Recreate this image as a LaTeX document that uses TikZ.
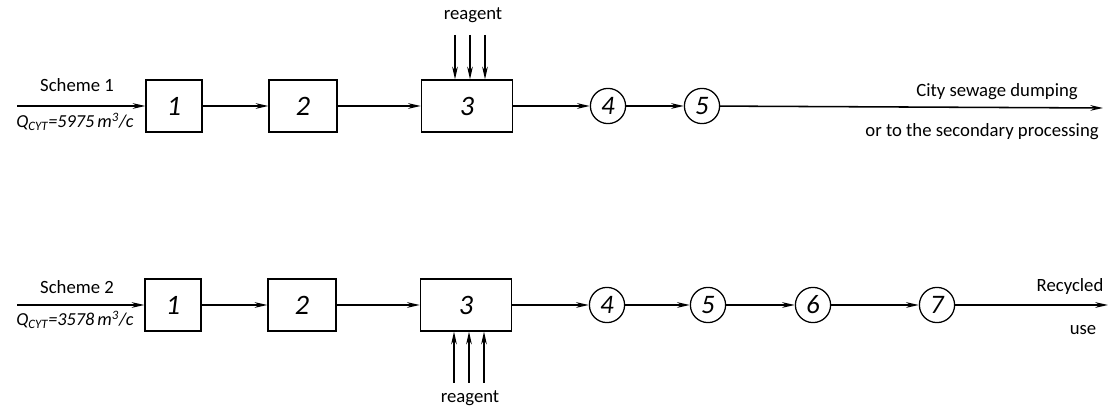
\documentclass[tikz,border=0pt]{standalone}
\usepackage{fontspec}
\setmainfont{Carlito}
\usetikzlibrary{arrows.meta}

\begin{document}
\begin{tikzpicture}[x=0.025cm, y=-0.025cm, font=\fontsize{13.3}{15}\selectfont,
    >={Stealth[length=9pt, width=4pt]},
    unit/.style={rectangle, draw, line width=0.9pt, minimum height=1.3cm, font=\fontsize{20}{22}\selectfont\itshape},
    stage/.style={circle, draw, line width=0.9pt, minimum size=0.88cm, inner sep=0pt, font=\fontsize{19}{20}\selectfont\itshape}]
\useasboundingbox (0,0) rectangle (1111,411);

% scheme 1
\begin{scope}
    \node[unit, minimum width=1.4cm] (A1) at (174,106) {1};
    \node[unit, minimum width=1.7cm] (B1) at (303,106) {2};
    \node[unit, minimum width=2.28cm] (C1) at (467,106) {3};
    \node[stage] (D1) at (608,106) {4};
    \node[stage] (E1) at (702,106) {5};
    \coordinate (in1) at (17,106);
    \coordinate (out1) at (1103,108);
    \coordinate (ra1) at (455,35);
    \coordinate (rb1) at (470,35);
    \coordinate (rc1) at (485,35);
\end{scope}

% scheme 2
\begin{scope}
    \node[unit, minimum width=1.4cm] (A2) at (173,305) {1};
    \node[unit, minimum width=1.7cm] (B2) at (302,305) {2};
    \node[unit, minimum width=2.28cm] (C2) at (466,305) {3};
    \node[stage] (D2) at (607,305) {4};
    \node[stage] (E2) at (708,305) {5};
    \node[stage] (F2) at (813,305) {6};
    \node[stage] (G2) at (937,305) {7};
    \coordinate (in2) at (17,305);
    \coordinate (out2) at (1108,305);
    \coordinate (ra2) at (454,383);
    \coordinate (rb2) at (469,383);
    \coordinate (rc2) at (484,383);
\end{scope}

% labels
\node (s1) at (77,85) {Scheme 1};
\node[anchor=west, inner sep=0pt, font=\fontsize{13}{15}\selectfont\itshape] (q1) at (16,122) {Q\textsubscript{CYT}=5975\,m\textsuperscript{3}/c};
\node (r1) at (473,15) {reagent};
\node (o1) at (997,92) {City sewage dumping};
\node (o1b) at (982,132) {or to the secondary processing};
\node (s2) at (77,287) {Scheme 2};
\node[anchor=west, inner sep=0pt, font=\fontsize{13}{15}\selectfont\itshape] (q2) at (16,320) {Q\textsubscript{CYT}=3578\,m\textsuperscript{3}/c};
\node (r2) at (470,398) {reagent};
\node (o2) at (1070,287) {Recycled};
\node (o2b) at (1083,330) {use};

\begin{scope}[every edge/.style={draw=black, line width=1.1pt}]
    \path [->] (in1) edge (A1);
    \path [->] (A1) edge (B1);
    \path [->] (B1) edge (C1);
    \path [->] (C1) edge (D1);
    \path [->] (D1) edge (E1);
    \path [->] (E1) edge (out1);
    \path [->] (ra1) edge (ra1 |- C1.north);
    \path [->] (rb1) edge (rb1 |- C1.north);
    \path [->] (rc1) edge (rc1 |- C1.north);

    \path [->] (in2) edge (A2);
    \path [->] (A2) edge (B2);
    \path [->] (B2) edge (C2);
    \path [->] (C2) edge (D2);
    \path [->] (D2) edge (E2);
    \path [->] (E2) edge (F2);
    \path [->] (F2) edge (G2);
    \path [->] (G2) edge (out2);
    \path [->] (ra2) edge (ra2 |- C2.south);
    \path [->] (rb2) edge (rb2 |- C2.south);
    \path [->] (rc2) edge (rc2 |- C2.south);
\end{scope}
\end{tikzpicture}
\end{document}
